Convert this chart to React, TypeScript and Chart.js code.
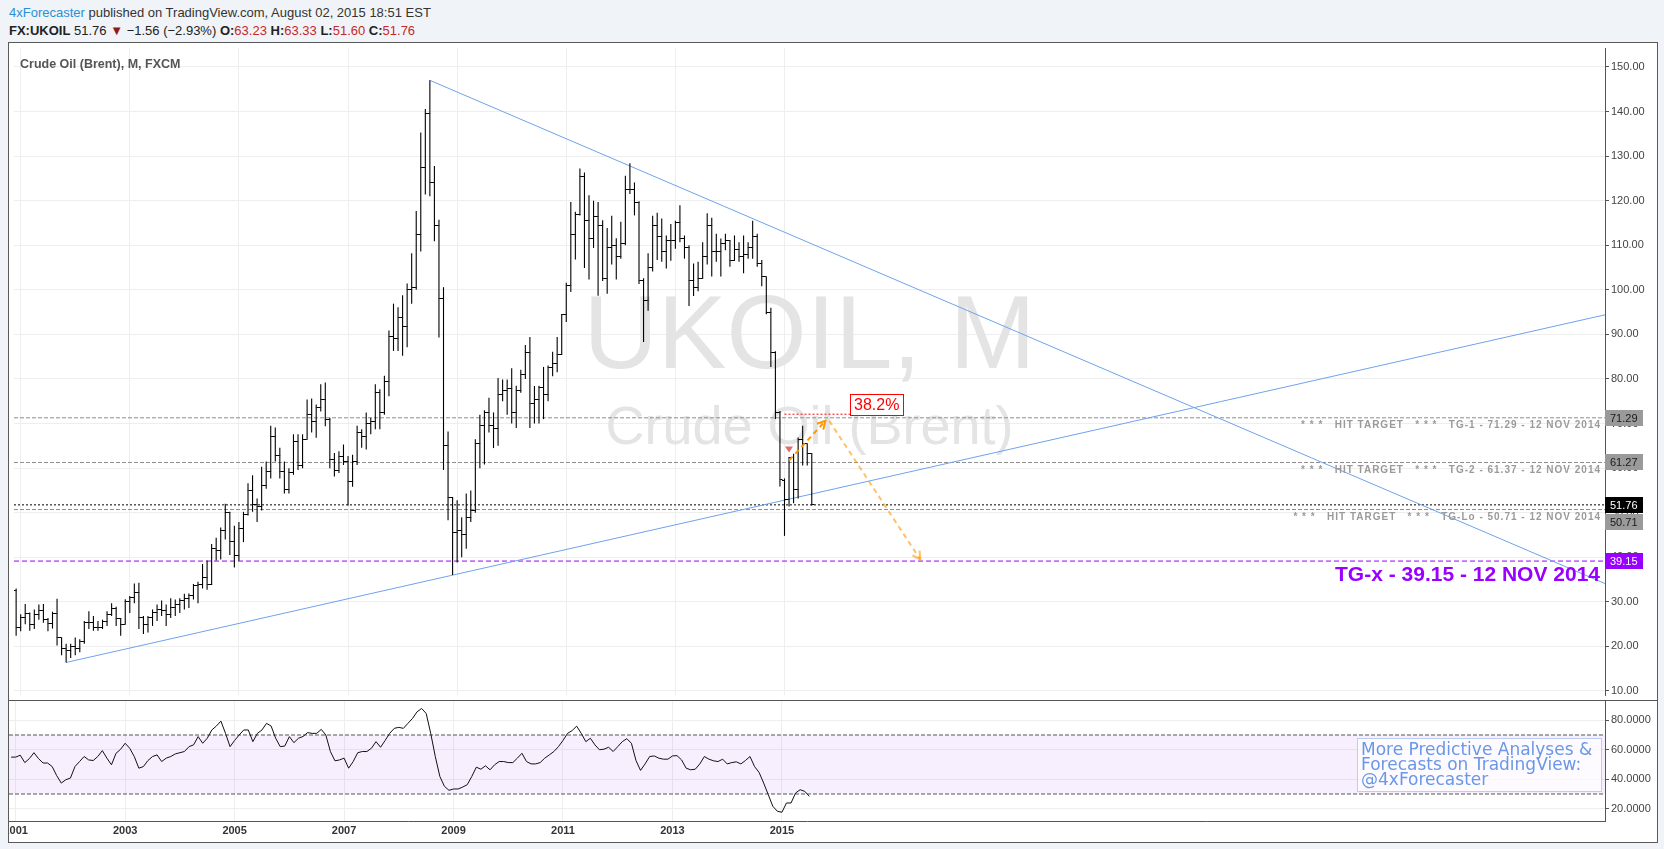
import React, { useEffect, useRef } from 'react';
import { Chart, registerables } from 'chart.js';

Chart.register(...registerables);

// ---------------- data ----------------
// monthly bars, first bar = December 2000
const FIRST_YEAR = 2000;
const FIRST_MONTH = 11; // 0-based (December)

const opens = [
  32.5,
  24.3, 26.4, 27.4, 24.9, 27.2, 28.1, 26.0, 25.1, 27.3, 21.9, 19.6, 19.0,
  19.9, 19.6, 21.0, 25.3, 25.4, 24.3, 24.2, 25.6, 27.1, 28.5, 26.2, 25.0,
  30.0, 30.9, 32.0, 26.4, 25.0, 26.4, 27.5, 28.2, 28.0, 27.2, 28.8, 29.3,
  30.2, 30.7, 31.5, 33.6, 33.8, 35.5, 34.0, 42.0, 41.5, 46.0, 50.0, 43.5,
  40.3, 46.5, 49.5, 55.0, 51.8, 51.5, 56.0, 59.3, 67.0, 62.8, 59.3, 55.2,
  59.0, 66.0, 60.5, 66.4, 72.0, 70.5, 73.5, 75.5, 71.0, 62.0, 59.5, 62.5,
  61.5, 57.0, 61.5, 68.0, 67.0, 70.0, 70.5, 77.0, 72.5, 79.5, 89.5, 89.0,
  93.8, 91.7, 100.0, 100.5, 112.5, 127.5, 139.5, 124.0, 114.5, 98.0, 65.0, 53.5,
  45.5, 45.9, 45.0, 49.0, 50.5, 65.5, 69.5, 72.5, 69.5, 69.0, 76.5, 77.5,
  77.9, 72.5, 77.5, 81.0, 86.0, 74.5, 75.5, 78.0, 76.5, 82.5, 83.5, 85.5,
  94.5, 101.0, 112.5, 117.0, 125.5, 115.5, 111.5, 116.5, 114.5, 102.5, 109.5, 110.0,
  107.5, 110.5, 122.5, 122.5, 119.5, 102.0, 97.5, 105.0, 114.5, 112.0, 108.5, 111.0,
  111.0, 115.0, 111.5, 109.5, 102.0, 100.5, 102.5, 107.5, 114.5, 108.5, 108.5, 110.5,
  111.0, 106.5, 109.0, 107.5, 108.0, 109.5, 112.0, 106.0, 103.0, 95.0, 86.0, 72.5,
  57.3, 53.0, 62.3, 55.2, 66.5, 65.5, 63.23,
];

const highs = [
  33.0,
  27.2, 29.5, 27.6, 28.3, 29.4, 29.5, 26.4, 27.8, 30.7, 22.0, 20.6, 20.6,
  22.0, 21.6, 25.7, 27.9, 26.8, 25.7, 26.0, 27.9, 29.7, 28.9, 26.4, 30.6,
  31.3, 34.1, 34.3, 26.8, 26.8, 28.3, 29.4, 30.3, 29.4, 30.8, 30.5, 30.8,
  31.8, 31.9, 34.0, 34.5, 38.5, 39.3, 43.0, 44.4, 46.7, 52.0, 50.2, 47.1,
  47.9, 50.2, 56.6, 58.4, 53.2, 60.3, 61.5, 69.5, 69.1, 64.6, 61.5, 60.0,
  67.6, 67.6, 67.6, 75.4, 75.6, 74.3, 78.8, 79.2, 71.3, 63.4, 63.8, 65.3,
  62.7, 63.0, 69.5, 68.7, 72.5, 71.3, 78.8, 77.7, 80.7, 90.9, 96.9, 96.1,
  98.8, 101.4, 108.2, 117.7, 135.3, 140.6, 147.0, 127.8, 115.7, 100.6, 68.2, 53.5,
  52.8, 49.0, 54.3, 55.0, 66.5, 72.0, 73.0, 75.8, 72.5, 80.2, 79.9, 79.9,
  82.4, 78.5, 82.1, 87.6, 89.4, 78.4, 78.5, 82.7, 83.0, 86.1, 89.4, 94.6,
  101.6, 119.7, 117.5, 127.2, 126.3, 121.2, 120.0, 119.7, 115.6, 113.9, 116.6, 111.6,
  115.3, 125.6, 128.4, 124.1, 119.9, 102.6, 108.2, 116.6, 117.3, 116.0, 112.2, 114.8,
  115.5, 119.0, 112.2, 110.0, 105.9, 106.3, 110.7, 117.2, 116.2, 112.6, 111.5, 112.6,
  111.2, 112.2, 110.7, 112.2, 110.7, 115.5, 112.6, 106.7, 103.0, 96.0, 86.2, 72.8,
  57.7, 62.5, 63.2, 66.9, 69.5, 65.5, 63.33,
];

const lows = [
  22.4,
  23.4, 25.0, 23.5, 23.9, 26.0, 25.3, 23.4, 24.0, 20.2, 18.0, 16.4, 17.4,
  18.0, 18.7, 20.6, 23.9, 23.5, 23.5, 23.9, 24.6, 26.8, 24.6, 22.4, 24.9,
  27.5, 29.7, 23.9, 22.8, 23.1, 24.6, 25.7, 26.8, 24.6, 26.4, 26.8, 27.5,
  28.3, 28.6, 30.5, 29.7, 33.0, 32.7, 33.8, 39.3, 39.5, 44.0, 40.5, 37.7,
  39.2, 43.4, 49.4, 50.2, 47.9, 50.5, 55.4, 57.7, 61.5, 57.7, 54.3, 54.3,
  58.5, 59.6, 60.0, 66.4, 68.0, 66.8, 72.7, 69.4, 60.0, 58.1, 58.9, 60.7,
  51.6, 55.8, 60.7, 64.6, 64.2, 67.6, 68.7, 68.7, 72.0, 76.1, 86.3, 86.3,
  85.2, 87.1, 96.9, 100.0, 108.6, 121.4, 121.0, 110.9, 89.3, 59.6, 48.3, 36.0,
  38.8, 40.0, 41.9, 47.9, 50.0, 60.0, 60.8, 68.0, 64.5, 65.0, 75.0, 72.0,
  70.0, 69.0, 76.9, 80.0, 69.0, 70.0, 70.0, 71.0, 75.0, 80.6, 81.5, 85.4,
  92.8, 99.5, 106.8, 116.7, 104.9, 102.3, 109.4, 98.7, 102.0, 99.1, 105.7, 102.3,
  107.0, 110.0, 121.5, 116.7, 101.3, 88.3, 95.3, 104.1, 106.7, 106.3, 104.8, 106.5,
  109.2, 110.7, 107.0, 96.4, 98.6, 99.7, 102.5, 105.7, 103.0, 106.3, 103.0, 108.9,
  105.2, 106.5, 106.3, 103.7, 107.0, 107.0, 105.2, 100.8, 94.5, 82.7, 71.0, 55.9,
  44.8, 51.4, 52.1, 53.2, 60.6, 60.6, 51.60,
];

const closes = [
  24.3,
  26.4, 27.4, 24.9, 27.2, 28.1, 26.0, 25.1, 27.3, 21.9, 19.6, 19.0, 19.9,
  19.6, 21.0, 25.3, 25.4, 24.3, 24.2, 25.6, 27.1, 28.5, 26.2, 25.0, 30.0,
  30.9, 32.0, 26.4, 25.0, 26.4, 27.5, 28.2, 28.0, 27.2, 28.8, 29.3, 30.2,
  30.7, 31.5, 33.6, 33.8, 35.5, 34.0, 42.0, 41.5, 46.0, 50.0, 43.5, 40.3,
  46.5, 49.5, 55.0, 51.8, 51.5, 56.0, 59.3, 67.0, 62.8, 59.3, 55.2, 59.0,
  66.0, 60.5, 66.4, 72.0, 70.5, 73.5, 75.5, 71.0, 62.0, 59.5, 62.5, 61.5,
  57.0, 61.5, 68.0, 67.0, 70.0, 70.5, 77.0, 72.5, 79.5, 89.5, 89.0, 93.8,
  91.7, 100.0, 100.5, 112.5, 127.5, 139.5, 124.0, 114.5, 98.0, 65.0, 53.5, 45.5,
  45.9, 45.0, 49.0, 50.5, 65.5, 69.5, 72.5, 69.5, 69.0, 76.5, 77.5, 77.9,
  72.5, 77.5, 81.0, 86.0, 74.5, 75.5, 78.0, 76.5, 82.5, 83.5, 85.5, 94.5,
  101.0, 112.5, 117.0, 125.5, 115.5, 111.5, 116.5, 114.5, 102.5, 109.5, 110.0, 107.5,
  110.5, 122.5, 122.5, 119.5, 102.0, 97.5, 105.0, 114.5, 112.0, 108.5, 111.0, 111.0,
  115.0, 111.5, 109.5, 102.0, 100.5, 102.5, 107.5, 114.5, 108.5, 108.5, 110.5, 111.0,
  106.5, 109.0, 107.5, 108.0, 109.5, 112.0, 106.0, 103.0, 95.0, 86.0, 72.5, 57.5,
  52.9, 62.3, 55.2, 66.5, 65.5, 63.3, 51.76,
];

const rsiValues = [
  55, 55, 56.3, 51.3, 54, 58, 54, 51, 51, 48.6,
  42.4, 37.4, 39.7, 40.8, 48.6, 52, 55.4, 53.1, 52.7, 55.4,
  59.4, 54.3, 49.8, 57.6, 60.3, 64.4, 61, 55.4, 47.5, 48.6,
  52.7, 55.4, 56.5, 52, 54.3, 55.4, 57.2, 58, 58.8, 62.1,
  63.3, 68.9, 64.4, 67.8, 73.4, 76.1, 79.4, 71.1, 62.1, 66.3,
  70, 73.4, 73.4, 65.5, 71.1, 73.4, 77.9, 76.1, 67.8, 62.1,
  62.5, 68.9, 64.8, 67.8, 69, 71.6, 71.1, 71.1, 73.8, 70,
  58.8, 52.5, 53.1, 54.3, 47.5, 52, 58, 58.8, 58.8, 61,
  65.5, 61.7, 66.3, 71.1, 74.5, 75.2, 74.5, 77.9, 81.2, 85.7,
  88, 84.6, 71.1, 55.4, 41.9, 35.2, 32.5, 33.4, 33.4, 34.7,
  36.3, 41.9, 48.2, 46.8, 49.1, 46.4, 49.8, 52, 52, 51.3,
  51.3, 54.3, 57.6, 52, 50.4, 50.4, 51.3, 54.3, 56.5, 58.8,
  62.1, 66.3, 71.1, 73, 76, 71.1, 65.5, 67.8, 63.3, 60,
  60.4, 61.7, 58.8, 62.1, 65.5, 67.5, 64.4, 52.7, 46, 50.4,
  55.4, 55.8, 54.3, 53.6, 53.6, 55.8, 56, 53.1, 47.5, 46.4,
  46.8, 50.4, 55.4, 53.6, 52.5, 52, 53.6, 50.4, 51.3, 51.8,
  50.4, 52.7, 55.4, 48.6, 44.6, 37.4, 29.6, 21.7, 18.3, 17.6,
  23.9, 23.9, 30.7, 32.9, 31.8, 28.4,
];

const YEAR_TICKS = [2001, 2003, 2005, 2007, 2009, 2011, 2013, 2015];
const PRICE_TICKS = [10, 20, 30, 40, 50, 60, 70, 80, 90, 100, 110, 120, 130, 140, 150];
const RSI_TICKS = [20, 40, 60, 80];
const RSI_UPPER = 70;
const RSI_LOWER = 30;

// trend lines [year, price]
const TREND_UPPER = [[2008.5, 147.0], [2030.04, 34.1]];
const TREND_LOWER = [[2001.833, 16.4], [2030.04, 94.4]];

// horizontal levels
const LAST_PRICE = 51.76;
const TARGET_LEVELS = [71.29, 61.27, 50.71];
const TGX_LEVEL = 39.15;
const TARGET_NOTES = [
  { level: 71.29, text: '* * *   HIT TARGET   * * *   TG-1 - 71.29 - 12 NOV 2014' },
  { level: 61.27, text: '* * *   HIT TARGET   * * *   TG-2 - 61.37 - 12 NOV 2014' },
  { level: 50.71, text: '* * *   HIT TARGET   * * *   TG-Lo - 50.71 - 12 NOV 2014' },
];
const TGX_NOTE = 'TG-x - 39.15 - 12 NOV 2014';
const AXIS_TAGS = [
  { level: 71.29, text: '71.29', bg: '#9A9A9A', fg: '#1A1A1A' },
  { level: 61.27, text: '61.27', bg: '#9A9A9A', fg: '#1A1A1A' },
  { level: 51.76, text: '51.76', bg: '#000000', fg: '#FFFFFF' },
  { level: 50.71, text: '50.71', bg: '#9A9A9A', fg: '#1A1A1A' },
  { level: 39.15, text: '39.15', bg: '#9900FF', fg: '#FFFFFF' },
];

// fibonacci 38.2% retracement marker
const FIB_LABEL = '38.2%';
const FIB_LEVEL = 72.1;
const FIB_FROM = 2015.0;
const FIB_TO = 2016.22;
const SIGNAL_MARK = [2015.083, 64.2];

// projection arrows
const ARROWS = [
  { from: [2015.087, 61.75], to: [2015.75, 70.6], color: '#FF9800' },
  { from: [2015.82, 70.6], to: [2017.49, 39.5], color: 'rgba(255,152,0,0.6)' },
];

const WATERMARK_SYMBOL = 'UKOIL, M';
const WATERMARK_NAME = 'Crude Oil (Brent)';
const PANE_TITLE = 'Crude Oil (Brent), M, FXCM';
const PROMO_LINES = ['More Predictive Analyses &', 'Forecasts on TradingView:', '@4xForecaster'];

// axis ranges
const X_MIN = 2000.8776;
const X_MAX = 2030.039;
const PRICE_MIN = 9.1;
const PRICE_MAX = 154.26;
const RSI_MIN = 11.69;
const RSI_MAX = 93.05;

const FONT = '"Liberation Sans", Arial, Helvetica, sans-serif';
const PURPLE = '#9900FF';
const AXIS_W = 52;

const monthX = (i: number) => FIRST_YEAR + (FIRST_MONTH + i) / 12;

function makeTick(side: 'left' | 'right') {
  const c = document.createElement('canvas');
  c.width = 7;
  c.height = 1;
  const g = c.getContext('2d')!;
  g.fillStyle = '#000';
  if (side === 'left') g.fillRect(1, 0, 2.5, 1);
  else g.fillRect(3.5, 0, 2.5, 1);
  return c;
}

const lineDs = (pts: number[][], color: string, dash: number[], width = 1, order = 5) => ({
  type: 'line',
  data: pts.map((p) => ({ x: p[0], y: p[1] })),
  borderColor: color,
  borderWidth: width,
  borderDash: dash,
  pointRadius: 0,
  tension: 0,
  fill: false,
  order,
});

const pricePlugin = {
  id: 'priceDecor',
  beforeDatasetsDraw(chart: any) {
    const { ctx, chartArea: a } = chart;
    ctx.save();
    ctx.beginPath();
    ctx.rect(a.left, a.top, a.right - a.left, a.bottom - a.top);
    ctx.clip();
    ctx.fillStyle = '#E4E4E4';
    ctx.textAlign = 'center';
    ctx.textBaseline = 'middle';
    const cx = (a.left + a.right) / 2;
    const cy = (a.top + a.bottom) / 2;
    ctx.font = `103px ${FONT}`;
    ctx.fillText(WATERMARK_SYMBOL, cx, cy - 32);
    ctx.font = `54px ${FONT}`;
    ctx.fillText(WATERMARK_NAME, cx, cy + 58);
    ctx.restore();
  },
  afterDatasetsDraw(chart: any) {
    const { ctx, chartArea: a, scales } = chart;
    const xs = scales.x;
    const ys = scales.y;
    ctx.save();
    // arrow heads
    for (const ar of ARROWS) {
      const x1 = xs.getPixelForValue(ar.from[0]);
      const y1 = ys.getPixelForValue(ar.from[1]);
      const x2 = xs.getPixelForValue(ar.to[0]);
      const y2 = ys.getPixelForValue(ar.to[1]);
      const ang = Math.atan2(y2 - y1, x2 - x1);
      ctx.strokeStyle = ar.color;
      ctx.lineWidth = 2;
      ctx.setLineDash([]);
      ctx.beginPath();
      ctx.moveTo(x2 - 9 * Math.cos(ang - 0.5), y2 - 9 * Math.sin(ang - 0.5));
      ctx.lineTo(x2, y2);
      ctx.lineTo(x2 - 9 * Math.cos(ang + 0.5), y2 - 9 * Math.sin(ang + 0.5));
      ctx.stroke();
    }
    // signal triangle
    const tx = xs.getPixelForValue(SIGNAL_MARK[0]);
    const ty = ys.getPixelForValue(SIGNAL_MARK[1]);
    ctx.fillStyle = 'rgba(220,80,80,0.85)';
    ctx.beginPath();
    ctx.moveTo(tx - 4, ty - 3);
    ctx.lineTo(tx + 4, ty - 3);
    ctx.lineTo(tx, ty + 3);
    ctx.closePath();
    ctx.fill();
    // 38.2% label box
    const bx = xs.getPixelForValue(FIB_TO) - 1;
    const by = ys.getPixelForValue(FIB_LEVEL);
    ctx.font = `16px ${FONT}`;
    const bw = ctx.measureText(FIB_LABEL).width + 8;
    ctx.fillStyle = '#FFFFFF';
    ctx.fillRect(bx, by - 20, bw, 21);
    ctx.strokeStyle = '#FF0000';
    ctx.lineWidth = 1;
    ctx.strokeRect(Math.round(bx) + 0.5, Math.round(by - 20) + 0.5, Math.round(bw), 21);
    ctx.fillStyle = '#FF0000';
    ctx.textAlign = 'left';
    ctx.textBaseline = 'middle';
    ctx.fillText(FIB_LABEL, bx + 4, by - 9);
    // target notes
    ctx.font = `bold 10px ${FONT}`;
    (ctx as any).letterSpacing = '1px';
    ctx.fillStyle = '#9A9A9A';
    ctx.textAlign = 'right';
    for (const n of TARGET_NOTES) {
      const y = ys.getPixelForValue(n.level);
      ctx.fillText(n.text, a.right - 4, y + 7.5);
    }
    (ctx as any).letterSpacing = '0px';
    ctx.font = `bold 21px ${FONT}`;
    ctx.fillStyle = PURPLE;
    ctx.fillText(TGX_NOTE, a.right - 5, ys.getPixelForValue(TGX_LEVEL) + 14);
    ctx.restore();
  },
  afterDraw(chart: any) {
    const { ctx, chartArea: a, scales } = chart;
    const ys = scales.y;
    ctx.save();
    // pane title
    ctx.font = `bold 12.5px ${FONT}`;
    ctx.fillStyle = '#555555';
    ctx.textAlign = 'left';
    ctx.textBaseline = 'middle';
    ctx.fillText(PANE_TITLE, a.left + 6, a.top + 17);
    // axis tags
    const h = 16;
    let prevBottom = -1e9;
    const tags = AXIS_TAGS.map((t) => ({ ...t, y: ys.getPixelForValue(t.level) })).sort((p, q) => p.y - q.y);
    ctx.font = `11px ${FONT}`;
    for (const t of tags) {
      let top = Math.round(t.y - h / 2);
      if (top < prevBottom + 1) top = prevBottom + 1;
      prevBottom = top + h;
      ctx.fillStyle = t.bg;
      ctx.fillRect(a.right, top, 38, h);
      ctx.fillStyle = t.fg;
      ctx.fillText(t.text, a.right + 5, top + h / 2 + 0.5);
    }
    ctx.restore();
  },
};

const rsiPlugin = {
  id: 'rsiDecor',
  beforeDatasetsDraw(chart: any) {
    const { ctx, chartArea: a, scales } = chart;
    const y1 = scales.y.getPixelForValue(RSI_UPPER);
    const y2 = scales.y.getPixelForValue(RSI_LOWER);
    ctx.save();
    ctx.fillStyle = 'rgba(170,80,230,0.09)';
    ctx.fillRect(a.left, y1, a.right - a.left, y2 - y1);
    ctx.restore();
  },
  afterDraw(chart: any) {
    const { ctx, chartArea: a, width } = chart;
    ctx.save();
    ctx.strokeStyle = '#555';
    ctx.lineWidth = 1;
    ctx.beginPath();
    ctx.moveTo(0, 0.5);
    ctx.lineTo(width, 0.5);
    ctx.stroke();
    // promo box
    const bw = 244;
    const bx = a.right - 4 - bw;
    const by = a.top + 37;
    ctx.fillStyle = 'rgba(255,255,255,0.7)';
    ctx.fillRect(bx, by, bw, 53);
    ctx.strokeStyle = '#B9CEF2';
    ctx.strokeRect(Math.round(bx) + 0.5, Math.round(by) + 0.5, bw, 53);
    ctx.fillStyle = '#6A97E6';
    ctx.font = `17px "DejaVu Sans", Verdana, sans-serif`;
    ctx.textAlign = 'left';
    ctx.textBaseline = 'alphabetic';
    PROMO_LINES.forEach((l, i) => ctx.fillText(l, bx + 4, by + 17 + i * 15));
    ctx.restore();
  },
};

export default function App() {
  const priceRef = useRef<HTMLCanvasElement>(null);
  const rsiRef = useRef<HTMLCanvasElement>(null);

  useEffect(() => {
    const openTick = makeTick('left');
    const closeTick = makeTick('right');

    const xCommon = {
      type: 'linear',
      min: X_MIN,
      max: X_MAX,
      offset: false,
      afterBuildTicks: (s: any) => {
        s.ticks = YEAR_TICKS.map((v) => ({ value: v }));
      },
    };

    const priceChart = new Chart(priceRef.current as any, {
      type: 'bar',
      data: {
        datasets: [
          {
            type: 'bar',
            data: highs.map((h, i) => ({ x: monthX(i), y: [lows[i], h] })),
            backgroundColor: '#000',
            borderWidth: 0,
            barThickness: 1.1,
            inflateAmount: 0,
            grouped: false,
            order: 2,
          },
          {
            type: 'line',
            data: opens.map((o, i) => ({ x: monthX(i), y: o })),
            showLine: false,
            pointStyle: openTick,
            pointRadius: 4,
            order: 2,
          },
          {
            type: 'line',
            data: closes.map((c, i) => ({ x: monthX(i), y: c })),
            showLine: false,
            pointStyle: closeTick,
            pointRadius: 4,
            order: 2,
          },
          lineDs([[X_MIN, TARGET_LEVELS[0]], [X_MAX, TARGET_LEVELS[0]]], '#8E8E8E', [4, 2]),
          lineDs([[X_MIN, TARGET_LEVELS[1]], [X_MAX, TARGET_LEVELS[1]]], '#8E8E8E', [4, 2]),
          lineDs([[X_MIN, TARGET_LEVELS[2]], [X_MAX, TARGET_LEVELS[2]]], '#8E8E8E', [4, 2]),
          lineDs([[X_MIN, LAST_PRICE], [X_MAX, LAST_PRICE]], '#000000', [2, 2]),
          lineDs([[X_MIN, TGX_LEVEL], [X_MAX, TGX_LEVEL]], PURPLE, [5, 3]),
          lineDs(TREND_UPPER, '#6FA2EE', [], 1, 4),
          lineDs(TREND_LOWER, '#6FA2EE', [], 1, 4),
          lineDs([[FIB_FROM, FIB_LEVEL], [FIB_TO, FIB_LEVEL]], '#FF0000', [2, 2], 1, 1),
          lineDs([ARROWS[0].from, ARROWS[0].to], ARROWS[0].color, [5, 4], 2, 0),
          lineDs([ARROWS[1].from, ARROWS[1].to], ARROWS[1].color, [5, 4], 2, 0),
        ] as any,
      },
      options: {
        animation: false,
        responsive: false,
        devicePixelRatio: 1,
        events: [],
        layout: { padding: 0 },
        plugins: { legend: { display: false }, tooltip: { enabled: false } },
        scales: {
          x: {
            ...xCommon,
            afterFit: (s: any) => {
              s.height = 0;
              s.paddingLeft = 0;
              s.paddingRight = 0;
            },
            grid: { color: '#EEEEEE', drawTicks: false, offset: false },
            border: { display: false },
            ticks: { display: false },
          },
          y: {
            position: 'right',
            min: PRICE_MIN,
            max: PRICE_MAX,
            afterBuildTicks: (s: any) => {
              s.ticks = PRICE_TICKS.map((v) => ({ value: v }));
            },
            afterFit: (s: any) => {
              s.width = AXIS_W;
              s.paddingTop = 0;
              s.paddingBottom = 0;
            },
            grid: { color: '#EEEEEE', tickColor: '#555', tickLength: 4 },
            border: { display: true, color: '#555' },
            ticks: {
              color: '#444',
              padding: 2,
              font: { size: 11, family: FONT },
              callback: (v: any) => Number(v).toFixed(2),
            },
          },
        } as any,
      },
      plugins: [pricePlugin],
    } as any);

    const rsiChart = new Chart(rsiRef.current as any, {
      type: 'line',
      data: {
        datasets: [
          {
            data: rsiValues.map((v, i) => ({ x: monthX(i), y: v })),
            borderColor: '#111',
            borderWidth: 1,
            pointRadius: 0,
            tension: 0,
          },
          lineDs([[X_MIN, RSI_UPPER], [X_MAX, RSI_UPPER]], '#555', [4, 2]),
          lineDs([[X_MIN, RSI_LOWER], [X_MAX, RSI_LOWER]], '#555', [4, 2]),
        ] as any,
      },
      options: {
        animation: false,
        responsive: false,
        devicePixelRatio: 1,
        events: [],
        layout: { padding: { top: 1, left: 0, right: 0, bottom: 0 } },
        plugins: { legend: { display: false }, tooltip: { enabled: false } },
        scales: {
          x: {
            ...xCommon,
            afterFit: (s: any) => {
              s.height = 20;
              s.paddingLeft = 0;
              s.paddingRight = 0;
            },
            grid: { color: '#EEEEEE', drawTicks: false },
            border: { display: true, color: '#555' },
            ticks: {
              color: '#333',
              padding: 3,
              maxRotation: 0,
              autoSkip: false,
              font: { size: 11, weight: 'bold', family: FONT },
              callback: (v: any) => String(v),
            },
          },
          y: {
            position: 'right',
            min: RSI_MIN,
            max: RSI_MAX,
            afterBuildTicks: (s: any) => {
              s.ticks = RSI_TICKS.map((v) => ({ value: v }));
            },
            afterFit: (s: any) => {
              s.width = AXIS_W;
              s.paddingTop = 0;
              s.paddingBottom = 0;
            },
            grid: { color: '#EEEEEE', tickColor: '#555', tickLength: 4 },
            border: { display: true, color: '#555' },
            ticks: {
              color: '#444',
              padding: 2,
              font: { size: 11, family: FONT },
              callback: (v: any) => Number(v).toFixed(4),
            },
          },
        } as any,
      },
      plugins: [rsiPlugin],
    } as any);

    return () => {
      priceChart.destroy();
      rsiChart.destroy();
    };
  }, []);

  const red = { color: '#C62828' };
  return (
    <div style={{ position: 'fixed', left: 0, top: 0, width: 1664, height: 849, background: '#F0F3F7', overflow: 'hidden', fontFamily: FONT }}>
      <div style={{ position: 'absolute', left: 9, top: 5, fontSize: 13, color: '#333', whiteSpace: 'nowrap' }}>
        <span style={{ color: '#2B8FD6' }}>4xForecaster</span> published on TradingView.com, August 02, 2015 18:51 EST
      </div>
      <div style={{ position: 'absolute', left: 9, top: 23, fontSize: 13, color: '#222', whiteSpace: 'nowrap' }}>
        <b>FX:UKOIL</b> 51.76 <span style={{ color: '#8E1B1B', fontSize: 13 }}>▼</span> −1.56 (−2.93%) <b>O:</b>
        <span style={red}>63.23</span> <b>H:</b>
        <span style={red}>63.33</span> <b>L:</b>
        <span style={red}>51.60</span> <b>C:</b>
        <span style={red}>51.76</span>
      </div>
      <div style={{ position: 'absolute', left: 8, top: 42, width: 1648, height: 799, border: '1px solid #5A5A5A', background: '#FFFFFF' }}>
        <canvas ref={priceRef} width={1648} height={657} style={{ position: 'absolute', left: 0, top: 0, display: 'block' }} />
        <canvas ref={rsiRef} width={1648} height={141} style={{ position: 'absolute', left: 0, top: 657, display: 'block' }} />
      </div>
    </div>
  );
}
